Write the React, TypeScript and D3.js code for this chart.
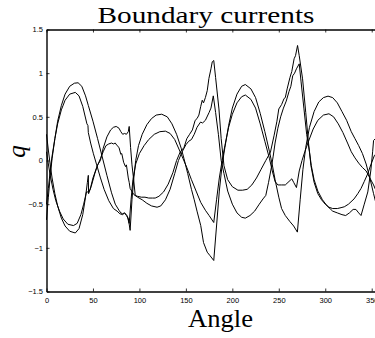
import * as d3 from 'd3';
import * as React from 'react';

// angle (deg) vs q
const outerPeakCurve: [number, number][] = [
  [0, -0.68], [2, -0.42], [4, -0.18], [6, 0.02], [9, 0.25], [12, 0.45], [16, 0.63], [20, 0.76], [25, 0.85], [30, 0.885],
  [34, 0.89], [38, 0.85], [42, 0.74], [45, 0.63], [50, 0.45], [55, 0.25], [60, 0.04], [65, -0.17], [70, -0.37], [74, -0.5],
  [78, -0.57], [80, -0.6], [82, -0.61], [84, -0.6], [86, -0.63], [88, -0.66], [90, -0.8], [92, -0.45], [94, -0.2], [96, 0.0],
  [99, 0.17], [103, 0.3], [108, 0.41], [113, 0.48], [118, 0.52], [124, 0.53], [130, 0.5], [135, 0.42], [140, 0.3], [145, 0.14],
  [148, 0.02], [152, -0.15], [156, -0.33], [159, -0.45], [162, -0.58], [166, -0.745], [169, -0.94], [173, -1.05], [176, -1.09],
  [180, -1.145], [183, -0.75], [186, -0.35], [189, -0.05], [192, 0.15], [196, 0.4], [200, 0.6], [205, 0.76], [210, 0.85],
  [214, 0.87], [220, 0.82], [225, 0.72], [230, 0.54], [235, 0.33], [240, 0.1], [243, -0.05], [246, -0.22], [250, -0.42],
  [253, -0.55], [257, -0.63], [262, -0.7], [266, -0.75], [270, -0.82], [273, -0.45], [276, -0.1], [279, 0.15], [283, 0.38],
  [288, 0.56], [293, 0.67], [298, 0.72], [303, 0.737], [308, 0.72], [313, 0.66], [318, 0.56], [323, 0.46], [328, 0.33],
  [332, 0.25], [336, 0.17], [340, 0.08], [344, -0.04], [348, -0.2], [352, -0.38], [356, -0.55], [360, -0.68],
];

const innerPeakCurve: [number, number][] = [
  [0, -0.5], [2, -0.32], [4, -0.12], [6, 0.05], [9, 0.25], [12, 0.42], [16, 0.58], [20, 0.69], [25, 0.76], [31, 0.78],
  [35, 0.74], [39, 0.62], [43.5, 0.42], [44.6, 0.4], [45, 0.32], [47.5, 0.2], [50.5, 0.077], [54, -0.05], [57.8, -0.19],
  [62, -0.33], [67, -0.46], [72, -0.55], [76, -0.58], [79, -0.61], [82, -0.62], [84, -0.6], [86.6, -0.63], [89, -0.72],
  [91, -0.45], [93, -0.22], [96, -0.04], [100, 0.08], [105, 0.17], [110, 0.24], [116, 0.3], [122, 0.33], [128, 0.336],
  [133, 0.31], [138, 0.24], [143, 0.12], [147, 0.02], [151, -0.08], [156, -0.22], [161, -0.35], [166, -0.48], [171, -0.57],
  [175, -0.63], [180, -0.71], [183, -0.45], [186, -0.2], [189, 0.0], [192, 0.17], [196, 0.38], [200, 0.53], [205, 0.66],
  [210, 0.73], [214, 0.75], [220, 0.7], [225, 0.6], [230, 0.42], [235, 0.22], [240, 0.02], [243, -0.12], [246, -0.24],
  [249, -0.28], [253, -0.28], [257, -0.28], [261, -0.24], [264, -0.21], [266, -0.25], [269, -0.31], [272, -0.12], [275, 0.0],
  [278, 0.1], [282, 0.22], [287, 0.36], [292, 0.46], [298, 0.52], [304, 0.535], [309, 0.5], [314, 0.42], [319, 0.32],
  [324, 0.2], [328, 0.1], [332, 0.03], [336, -0.03], [340, -0.08], [344, -0.12], [348, -0.2], [352, -0.28], [356, -0.38],
  [360, -0.5],
];

const outerTroughCurve: [number, number][] = [
  [0, 0.3], [2, 0.12], [4, -0.05], [6, -0.2], [9, -0.38], [12, -0.52], [16, -0.66], [20, -0.75], [25, -0.81], [31, -0.83],
  [35, -0.78], [39, -0.62], [42, -0.42], [44, -0.25], [45, -0.17], [45.3, -0.38], [48, -0.3], [52, -0.15], [55, -0.05],
  [58, 0.0], [61, 0.14], [65, 0.27], [69, 0.35], [72, 0.38], [75, 0.39], [78, 0.37], [80, 0.33], [82, 0.3], [84, 0.31],
  [86, 0.3], [88, 0.33], [89, 0.39], [90.5, 0.15], [92, -0.05], [93.6, -0.2], [95.5, -0.4], [98, -0.41], [102, -0.42],
  [106, -0.42], [110, -0.43], [114, -0.43], [117, -0.43], [121, -0.41], [126, -0.36], [131, -0.27], [136, -0.14], [140, 0.0],
  [144, 0.1], [148, 0.15], [151, 0.25], [154, 0.3], [157, 0.35], [160, 0.46], [162, 0.48], [164, 0.52], [166, 0.62],
  [167.6, 0.69], [169, 0.66], [171, 0.72], [173, 0.8], [174.8, 0.94], [177, 1.05], [178.4, 1.13], [180, 1.145], [182, 0.95],
  [185.6, 0.59], [188, 0.25], [191, -0.06], [195, -0.22], [200, -0.3], [206, -0.34], [211, -0.34], [216, -0.33], [221, -0.28],
  [226, -0.2], [231, -0.1], [236, 0.0], [241, 0.095], [245, 0.29], [248, 0.45], [250, 0.59], [253, 0.64], [255.7, 0.71],
  [257, 0.72], [259, 0.82], [262, 0.95], [264, 1.02], [266.5, 1.165], [268, 1.2], [270.2, 1.317], [272, 1.2], [275.6, 0.935],
  [279, 0.55], [282, 0.2], [284.6, -0.06], [288, -0.25], [292, -0.38], [296, -0.45], [300, -0.5], [304, -0.535], [308, -0.55],
  [313, -0.55], [317, -0.54], [320.5, -0.53], [325, -0.5], [331, -0.44], [335, -0.38], [338.5, -0.32], [342, -0.24],
  [345.8, -0.15], [349, -0.05], [353, 0.06], [356, 0.08], [360, 0.1],
];

const innerTroughCurve: [number, number][] = [
  [0, 0.1], [2, -0.04], [4, -0.17], [7, -0.33], [10, -0.46], [14, -0.58], [18, -0.67], [23, -0.73], [29, -0.745], [33, -0.72],
  [37, -0.62], [40, -0.5], [43, -0.36], [45, -0.36], [47, -0.33], [50, -0.2], [54, -0.08], [58, 0.02], [61, 0.1], [64, 0.17],
  [67, 0.19], [70, 0.2], [72, 0.19], [74, 0.2], [76, 0.17], [78, 0.15], [80, 0.07], [81, 0.08], [83, -0.02], [85, -0.07],
  [86, -0.05], [88, -0.2], [89, -0.25], [90, -0.32], [94, -0.39], [98, -0.42], [103, -0.45], [108, -0.49], [113, -0.52],
  [119, -0.535], [123, -0.52], [128, -0.45], [133, -0.33], [138, -0.15], [142, 0.0], [146, 0.1], [150, 0.18], [153, 0.22],
  [156, 0.24], [159, 0.3], [162, 0.38], [165.8, 0.44], [168, 0.43], [171, 0.46], [175, 0.55], [177, 0.6], [179.5, 0.74],
  [182, 0.55], [185, 0.3], [188, 0.0], [191, -0.15], [195, -0.35], [200, -0.5], [205, -0.6], [210, -0.65], [214, -0.66],
  [219, -0.63], [224, -0.58], [229, -0.5], [233, -0.44], [236, -0.4], [239, -0.25], [242, -0.08], [244, 0.05], [246, 0.2],
  [249, 0.37], [252, 0.5], [255, 0.6], [258, 0.68], [261, 0.79], [263, 0.85], [265, 0.97], [267, 1.0], [269, 1.05],
  [272, 1.107], [274, 0.9], [277, 0.6], [280, 0.3], [283, 0.1], [285, -0.06], [288, -0.22], [292, -0.35], [297, -0.45],
  [302, -0.52], [306, -0.56], [308, -0.58], [313, -0.6], [318, -0.62], [322, -0.63], [326, -0.6], [330, -0.56], [333, -0.56],
  [336, -0.6], [338.5, -0.63], [342, -0.5], [345.8, -0.36], [349, -0.12], [351, 0.1], [352, 0.23], [356, 0.27], [360, 0.3],
];

const curves = [outerPeakCurve, innerPeakCurve, outerTroughCurve, innerTroughCurve];

const xTicks = [0, 50, 100, 150, 200, 250, 300, 350];
const yTicks = [-1.5, -1, -0.5, 0, 0.5, 1, 1.5];
const yTickLabels = ['−1.5', '−1', '−0.5', '0', '0.5', '1', '1.5'];

const WIDTH = 375;
const HEIGHT = 338;

const BoundaryCurrents = () => {
  const ref = React.useRef<SVGSVGElement | null>(null);

  React.useEffect(() => {
    if (!ref.current) return;
    const svg = d3.select(ref.current);
    svg.selectAll('*').remove();

    const margin = { top: 29.5, left: 46.5, right: 381, bottom: 291.5 };
    const x = d3.scaleLinear().domain([0, 360]).range([margin.left, margin.right]);
    const y = d3.scaleLinear().domain([-1.5, 1.5]).range([margin.bottom, margin.top]);

    const tickFont = 'Liberation Sans, Arial, sans-serif';

    // lines first, axes drawn on top
    const line = d3
      .line<[number, number]>()
      .x((d) => x(d[0]))
      .y((d) => y(d[1]));

    svg
      .append('g')
      .selectAll('path')
      .data(curves)
      .enter()
      .append('path')
      .attr('d', (d) => line(d))
      .attr('fill', 'none')
      .attr('stroke', '#000')
      .attr('stroke-width', 1);

    const styleAxis = (g) => {
      g.attr('font-family', tickFont).attr('font-size', 7.5);
      g.selectAll('.domain').attr('stroke', '#000').attr('stroke-width', 1.4);
      g.selectAll('.tick line').attr('stroke', '#000').attr('stroke-width', 0.8);
      g.selectAll('.tick text').attr('fill', '#000');
    };

    const bottom = svg
      .append('g')
      .attr('transform', `translate(0,${margin.bottom})`)
      .call(d3.axisBottom(x).tickValues(xTicks).tickSizeInner(-3).tickSizeOuter(0).tickPadding(6).tickFormat((d) => `${d}`));
    styleAxis(bottom);

    const top = svg
      .append('g')
      .attr('transform', `translate(0,${margin.top})`)
      .call(d3.axisTop(x).tickValues(xTicks).tickSizeInner(-3).tickSizeOuter(0).tickFormat(() => ''));
    styleAxis(top);

    const left = svg
      .append('g')
      .attr('transform', `translate(${margin.left},0)`)
      .call(
        d3
          .axisLeft(y)
          .tickValues(yTicks)
          .tickSizeInner(-3)
          .tickSizeOuter(0)
          .tickPadding(3.5)
          .tickFormat((d, i) => yTickLabels[i]),
      );
    styleAxis(left);

    const right = svg
      .append('g')
      .attr('transform', `translate(${margin.right},0)`)
      .call(d3.axisRight(y).tickValues(yTicks).tickSizeInner(-3).tickSizeOuter(0).tickFormat(() => ''));
    styleAxis(right);

    svg
      .append('text')
      .attr('x', 206)
      .attr('y', 22.5)
      .attr('text-anchor', 'middle')
      .attr('font-family', 'Liberation Serif, serif')
      .attr('font-size', 24)
      .attr('textLength', 217)
      .attr('lengthAdjust', 'spacingAndGlyphs')
      .attr('fill', '#000')
      .text('Boundary currents');

    svg
      .append('text')
      .attr('x', 220.5)
      .attr('y', 327.3)
      .attr('text-anchor', 'middle')
      .attr('font-family', 'Liberation Serif, serif')
      .attr('font-size', 26)
      .attr('textLength', 65)
      .attr('lengthAdjust', 'spacingAndGlyphs')
      .attr('fill', '#000')
      .text('Angle');

    svg
      .append('text')
      .attr('transform', 'translate(24.5,151.5) rotate(-90)')
      .attr('text-anchor', 'middle')
      .attr('font-family', 'Liberation Serif, serif')
      .attr('font-style', 'italic')
      .attr('font-size', 25)
      .attr('fill', '#000')
      .text('q');
  }, []);

  return <svg ref={ref} width={WIDTH} height={HEIGHT} style={{ display: 'block' }} />;
};

export default function App() {
  return (
    <div style={{ position: 'absolute', left: 0, top: 0, width: WIDTH, height: HEIGHT, overflow: 'hidden', background: '#fff' }}>
      <BoundaryCurrents />
    </div>
  );
}
